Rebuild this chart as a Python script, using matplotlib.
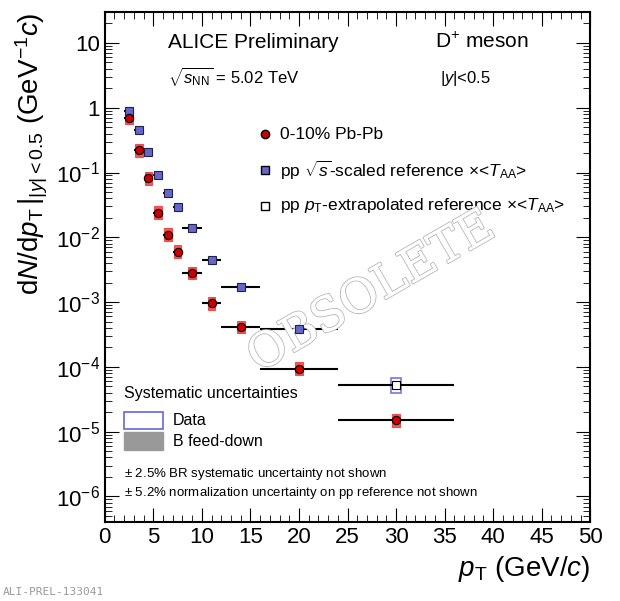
import numpy as np
import matplotlib.pyplot as plt
import matplotlib.patheffects as pe
from matplotlib.patches import Rectangle

plt.rcParams['font.family'] = ['Liberation Sans', 'DejaVu Sans']
plt.rcParams['mathtext.fontset'] = 'custom'
plt.rcParams['mathtext.rm'] = 'Liberation Sans'
plt.rcParams['mathtext.it'] = 'Liberation Sans:italic'

# bins (GeV/c)
pt_lo = np.array([2, 3, 4, 5, 6, 7, 8, 10, 12, 16, 24])
pt_hi = np.array([3, 4, 5, 6, 7, 8, 10, 12, 16, 24, 36])
pbpb = np.array([0.70, 0.22, 0.081, 0.024, 0.011, 0.006, 0.0028, 0.00096, 0.00041, 9.4e-5, 1.5e-5])
pp = np.array([0.90, 0.46, 0.21, 0.09, 0.049, 0.029, 0.014, 0.0044, 0.0017, 3.9e-4])
pp_extrap = 5.2e-5

pt = (pt_lo + pt_hi) / 2
xerr = (pt_hi - pt_lo) / 2

fig = plt.figure(figsize=(6.2, 6.01), dpi=100)
ax = fig.add_axes([0.169, 0.131, 0.783, 0.849])
ax.set_yscale('log')
ax.set_xlim(0, 50)
ax.set_ylim(4e-7, 30)

# pp points
n = len(pp)
for i in range(n):
    ax.add_patch(Rectangle((pt[i] - 0.35, pp[i] * 0.88), 0.7, pp[i] * 0.26, fc='#7777dd', ec='#7777dd', lw=0.8, alpha=0.5))
ax.errorbar(pt[:n], pp, xerr=xerr[:n], fmt='s', ms=6, mfc='#6666cc', mec='#222244', mew=0.8, ecolor='k', elinewidth=1.5, zorder=3)
# extrapolated
ax.add_patch(Rectangle((pt[-1] - 0.5, pp_extrap * 0.75), 1.0, pp_extrap * 0.55, fc='none', ec='#7777dd', lw=1.2))
ax.errorbar([pt[-1]], [pp_extrap], xerr=[xerr[-1]], fmt='s', ms=6, mfc='white', mec='k', mew=0.8, ecolor='k', elinewidth=1.5, zorder=3)

# Pb-Pb
for i in range(len(pbpb)):
    ax.add_patch(Rectangle((pt[i] - 0.4, pbpb[i] * 0.8), 0.8, pbpb[i] * 0.45, fc='#ee3333', ec='#ee3333', lw=0.8, alpha=0.8))
ax.errorbar(pt, pbpb, xerr=xerr, fmt='o', ms=6, mfc='#cc0000', mec='k', mew=0.8, ecolor='k', elinewidth=1.5, zorder=4)

ax.tick_params(which='both', direction='in', top=True, right=True, labelsize=16)
ax.tick_params(which='major', length=10)
ax.tick_params(which='minor', length=5)
ax.set_xticks(np.arange(0, 51, 5))
ax.set_xticks(np.arange(0, 51, 1), minor=True)
ax.set_yticks([1e-6, 1e-5, 1e-4, 1e-3, 1e-2, 1e-1, 1, 10])
ax.set_yticklabels(['$10^{-6}$', '$10^{-5}$', '$10^{-4}$', '$10^{-3}$', '$10^{-2}$', '$10^{-1}$', '1', '10'])
for s in ax.spines.values():
    s.set_linewidth(1.5)

ax.set_xlabel(r'$p_{\rm T}$ (GeV/$c$)', fontsize=20, loc='right')
ax.set_ylabel(r'd$N$/d$p_{\rm T}\,|_{|y|<0.5}$ (GeV$^{-1}c$)', fontsize=20, loc='top')

tr = ax.transAxes
ax.text(0.13, 0.93, 'ALICE Preliminary', transform=tr, fontsize=15)
ax.text(0.13, 0.86, r'$\sqrt{s_{\rm NN}}$ = 5.02 TeV', transform=tr, fontsize=12)
ax.text(0.68, 0.93, r'D$^{+}$ meson', transform=tr, fontsize=15)
ax.text(0.69, 0.86, r'$|y|$<0.5', transform=tr, fontsize=12)

ax.plot([0.33], [0.76], 'o', ms=6, mfc='#cc0000', mec='k', transform=tr)
ax.text(0.36, 0.76, '0-10% Pb-Pb', transform=tr, fontsize=12.5, va='center')
ax.plot([0.33], [0.69], 's', ms=6, mfc='#6666cc', mec='k', transform=tr)
ax.text(0.36, 0.69, r'pp $\sqrt{s}$-scaled reference $\times$<$T_{\rm AA}$>', transform=tr, fontsize=12.5, va='center')
ax.plot([0.33], [0.62], 's', ms=6, mfc='white', mec='k', transform=tr)
ax.text(0.36, 0.62, r'pp $p_{\rm T}$-extrapolated reference $\times$<$T_{\rm AA}$>', transform=tr, fontsize=12.5, va='center')

ax.text(0.04, 0.253, 'Systematic uncertainties', transform=tr, fontsize=11.5, va='center')
ax.add_patch(Rectangle((0.04, 0.183), 0.08, 0.034, transform=tr, fc='none', ec='#6666dd', lw=1.2))
ax.text(0.14, 0.2, 'Data', transform=tr, fontsize=11.5, va='center')
ax.add_patch(Rectangle((0.04, 0.142), 0.08, 0.034, transform=tr, fc='#999999', ec='#999999'))
ax.text(0.14, 0.159, 'B feed-down', transform=tr, fontsize=11.5, va='center')
ax.text(0.04, 0.094, r'$\pm$ 2.5% BR systematic uncertainty not shown', transform=tr, fontsize=9.5, va='center')
ax.text(0.04, 0.057, r'$\pm$ 5.2% normalization uncertainty on pp reference not shown', transform=tr, fontsize=9.5, va='center')

t = ax.text(0.55, 0.45, 'OBSOLETE', transform=tr, fontsize=34, rotation=30, color='white',
            ha='center', va='center', family='serif')
t.set_path_effects([pe.withStroke(linewidth=1.5, foreground='#bbbbbb'), pe.Normal()])

fig.text(0.005, 0.01, 'ALI-PREL-133041', fontsize=8, color='#999999', family='monospace')
fig.savefig('out.png', dpi=100)
